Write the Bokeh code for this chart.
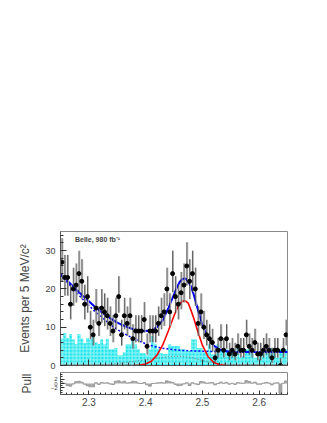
import numpy as np
from bokeh.plotting import figure
from bokeh.layouts import column
from bokeh.models import Range1d, Label, FixedTicker, CustomJSTickFormatter
from bokeh.embed import file_html
from bokeh.resources import INLINE

# ---------------- data ----------------
x_lo = 2.25
bin_width = 0.005
n_bins = 80

counts = [27, 23, 23, 16, 20, 21, 24, 22, 16, 18,
          10, 8, 15, 11, 15, 14, 13, 11, 9, 13,
          18, 8, 13, 11, 13, 7, 9, 9, 9, 12,
          5, 9, 9, 9, 11, 13, 14, 20, 14, 24,
          18, 16, 19, 21, 26, 22, 24, 20, 11, 14,
          10, 8, 7, 6, 2, 4, 7, 4, 7, 3,
          4, 3, 5, 4, 4, 8, 5, 4, 6, 3,
          3, 4, 5, 4, 2, 4, 4, 0, 4, 8]

bkg_hist = [7.0, 8.4, 7.2, 8.2, 6.8, 5.6, 8.2, 7.0, 5.8, 7.2,
            6.8, 7.4, 6.0, 5.6, 6.8, 5.5, 6.9, 4.2, 4.2, 4.6,
            2.6, 2.6, 3.4, 5.5, 5.5, 6.8, 5.5, 4.2, 3.2, 3.2,
            2.6, 4.2, 7.7, 5.5, 4.2, 3.2, 3.0, 3.0, 5.5, 5.1,
            5.1, 5.1, 4.2, 4.2, 3.8, 3.8, 6.8, 6.8, 4.6, 4.6,
            3.4, 3.4, 5.5, 2.9, 2.9, 5.5, 4.2, 4.2, 4.2, 3.8,
            3.3, 3.3, 5.1, 2.0, 2.4, 4.2, 4.2, 4.2, 2.0, 2.0,
            3.6, 3.6, 3.8, 3.6, 4.6, 4.6, 2.0, 4.2, 4.2, 4.2]

pulls = [0.3, 0.1, -1.0, -1.2, -0.2, 0.8, 1.0, 0.6, -0.3, -1.0,
         -1.5, -1.5, 0.3, -0.4, 0.4, 0.2, 0.3, -0.2, -0.5, 1.0,
         1.2, 0.6, 1.0, 0.2, 0.4, 1.0, 0.8, 0.1, 0.0, 0.4,
         -0.6, -1.2, 0.0, 0.1, 0.3, 0.4, 0.2, 1.2, 0.8, 0.5,
         -0.4, -1.0, -0.8, -0.2, 0.3, -0.9, 0.3, -0.2, -0.5, 0.9,
         0.7, 0.1, 0.3, 0.4, -0.6, 0.0, 0.6, 0.1, 0.5, -0.3,
         0.1, -0.4, 0.4, 0.2, 0.1, 1.3, 0.9, 0.2, 0.6, -0.3,
         -0.3, 0.1, 0.5, 0.2, -0.6, 0.2, 0.3, -4.6, 0.1, 1.2]

# fit curves
curve_x = [2.25, 2.26, 2.27, 2.28, 2.29, 2.30, 2.31, 2.32, 2.33, 2.34,
           2.35, 2.36, 2.37, 2.38, 2.39, 2.40, 2.41, 2.42, 2.43, 2.44,
           2.45, 2.455, 2.46, 2.465, 2.47, 2.475, 2.48, 2.485, 2.49, 2.50,
           2.51, 2.52, 2.53, 2.54, 2.55, 2.56, 2.58, 2.60, 2.62, 2.65]
total_fit = [24.0, 22.5, 21.0, 19.5, 18.1, 16.8, 15.4, 14.2, 13.1, 12.1,
             11.2, 10.5, 9.9, 9.4, 9.1, 9.0, 9.2, 10.0, 11.8, 15.0,
             18.6, 20.4, 21.8, 22.6, 22.7, 22.0, 20.6, 18.4, 15.7, 10.6,
             7.2, 5.2, 4.2, 3.8, 3.6, 3.55, 3.5, 3.5, 3.5, 3.5]
bkg_fit = [23.6, 22.0, 20.4, 18.8, 17.2, 15.7, 14.2, 12.9, 11.6, 10.4,
           9.4, 8.5, 7.7, 7.0, 6.3, 5.7, 5.2, 4.8, 4.5, 4.3,
           4.1, 4.05, 4.0, 3.95, 3.9, 3.88, 3.85, 3.82, 3.8, 3.75,
           3.7, 3.65, 3.62, 3.6, 3.58, 3.56, 3.53, 3.5, 3.48, 3.45]
signal_fit = [0, 0, 0, 0, 0, 0, 0, 0, 0, 0,
              0, 0, 0, 0, 0.1, 0.4, 1.1, 2.7, 5.3, 9.0,
              13.0, 14.7, 16.1, 16.8, 16.9, 16.3, 14.4, 12.3, 9.8, 5.3,
              2.3, 0.8, 0.2, 0.05, 0, 0, 0, 0, 0, 0]
other_fit = [0, 0, 0, 0, 0, 0.05, 0.1, 0.15, 0.25, 0.35,
             0.5, 0.7, 0.9, 1.1, 1.3, 1.5, 1.7, 1.9, 2.1, 2.3,
             2.4, 2.4, 2.4, 2.35, 2.3, 2.2, 2.1, 1.9, 1.7, 1.3,
             1.0, 0.7, 0.5, 0.4, 0.3, 0.25, 0.2, 0.15, 0.1, 0.1]

x_major = [2.3, 2.4, 2.5, 2.6]
y_major = [0, 10, 20, 30]
pull_major = [-2, 0, 2]

# ---------------- derived geometry ----------------
left = np.array([x_lo + i * bin_width for i in range(n_bins)])
right = left + bin_width
centers = left + bin_width / 2
cnt = np.array(counts, dtype=float)
err_up = np.sqrt(cnt + 0.75) + 1.0
err_dn = np.where(cnt > 0, np.sqrt(np.clip(cnt - 0.25, 0, None)), 0.0)

FONT = "Liberation Sans"
x_minor = [round(2.25 + 0.01 * i, 3) for i in range(41)]

p = figure(frame_width=227, frame_height=134,
           x_range=Range1d(2.25, 2.65), y_range=Range1d(0, 35),
           output_backend="svg", toolbar_location=None,
           min_border_top=231, min_border_left=60, min_border_right=31,
           min_border_bottom=6)
p.grid.visible = False
p.outline_line_color = "#8a8a8a"
p.background_fill_color = "white"

p.quad(left=left, right=right, bottom=0, top=bkg_hist,
       fill_color="#14e4ec", line_color=None,
       hatch_pattern="+", hatch_color="#9ef6f6", hatch_scale=3.5,
       hatch_weight=1)

p.line(curve_x, other_fit, line_color="#777777", line_width=1, line_dash="1 2")
p.line(curve_x, bkg_fit, line_color="#0000ff", line_width=1.5, line_dash="2 2")
p.line(curve_x, signal_fit, line_color="#ff0000", line_width=1.6)
p.line(curve_x, total_fit, line_color="#0000ff", line_width=2)

p.segment(x0=centers + 0.0015, y0=cnt - err_dn, x1=centers + 0.0015, y1=cnt + err_up,
          line_color="#b4b4b4", line_width=1.2)
p.segment(x0=centers, y0=cnt - err_dn, x1=centers, y1=cnt + err_up,
          line_color="#222222", line_width=0.7)
p.scatter(centers, cnt, size=4, color="black")

p.xaxis.ticker = FixedTicker(ticks=x_major, minor_ticks=x_minor)
p.yaxis.ticker = FixedTicker(ticks=y_major, minor_ticks=list(range(0, 36, 2)))
p.xaxis.formatter = CustomJSTickFormatter(code="return '';")
p.xaxis.major_label_standoff = 0
for ax in [p.xaxis[0], p.yaxis[0]]:
    ax.major_tick_in = 6
    ax.major_tick_out = 0
    ax.minor_tick_in = 3
    ax.minor_tick_out = 0
    ax.axis_line_color = "#555555"
    ax.major_tick_line_color = "#333333"
    ax.minor_tick_line_color = "#333333"
p.yaxis.major_label_text_font_size = "9px"
p.yaxis.major_label_text_font = FONT
p.yaxis.major_label_standoff = 5
p.yaxis.axis_label = "Events per 5 MeV/c²"
p.yaxis.axis_label_text_font = FONT
p.yaxis.axis_label_text_font_style = "normal"
p.yaxis.axis_label_text_font_size = "12px"
p.yaxis.axis_label_standoff = 10

p.add_layout(Label(x=2.2755, y=33.0, text="Belle, 980 fb⁻¹",
                   text_font=FONT, text_font_size="7px",
                   text_font_style="bold", text_baseline="middle"))

# ---------------- pull panel ----------------
q = figure(frame_width=227, frame_height=22,
           x_range=p.x_range, y_range=Range1d(-5, 5),
           output_backend="svg", toolbar_location=None,
           min_border_top=1, min_border_left=60, min_border_right=31,
           min_border_bottom=28)
q.grid.visible = False
q.outline_line_color = "#8a8a8a"
q.quad(left=left, right=right, bottom=0, top=pulls,
       fill_color="#a6a6a6", line_color=None)
q.step(centers, pulls, mode="center", line_color="#999999", line_width=1)

q.xaxis.ticker = FixedTicker(ticks=x_major, minor_ticks=x_minor)
q.yaxis.ticker = FixedTicker(ticks=pull_major, minor_ticks=[-4, -3, -1, 1, 3, 4])
for ax in [q.xaxis[0], q.yaxis[0]]:
    ax.major_tick_in = 4
    ax.major_tick_out = 0
    ax.minor_tick_in = 2
    ax.minor_tick_out = 0
    ax.axis_line_color = "#555555"
    ax.major_tick_line_color = "#333333"
    ax.minor_tick_line_color = "#333333"
q.xaxis.major_label_text_font_size = "10px"
q.xaxis.major_label_text_font = FONT
q.xaxis.major_label_standoff = 3
q.yaxis.major_label_text_font_size = "6px"
q.yaxis.major_label_text_font = FONT
q.yaxis.major_label_standoff = 3
q.yaxis.axis_label = "Pull"
q.yaxis.axis_label_text_font = FONT
q.yaxis.axis_label_text_font_style = "normal"
q.yaxis.axis_label_text_font_size = "12px"
q.yaxis.axis_label_standoff = 14

q.add_layout(Label(x=2.465, y=-13.6, text="M(Ξ⁰π⁰) [GeV/c²]",
                   text_font=FONT, text_font_size="15px",
                   text_align="center", text_baseline="middle"))

layout = column(p, q, spacing=0)
open("out.html", "w").write(file_html(layout, INLINE))
